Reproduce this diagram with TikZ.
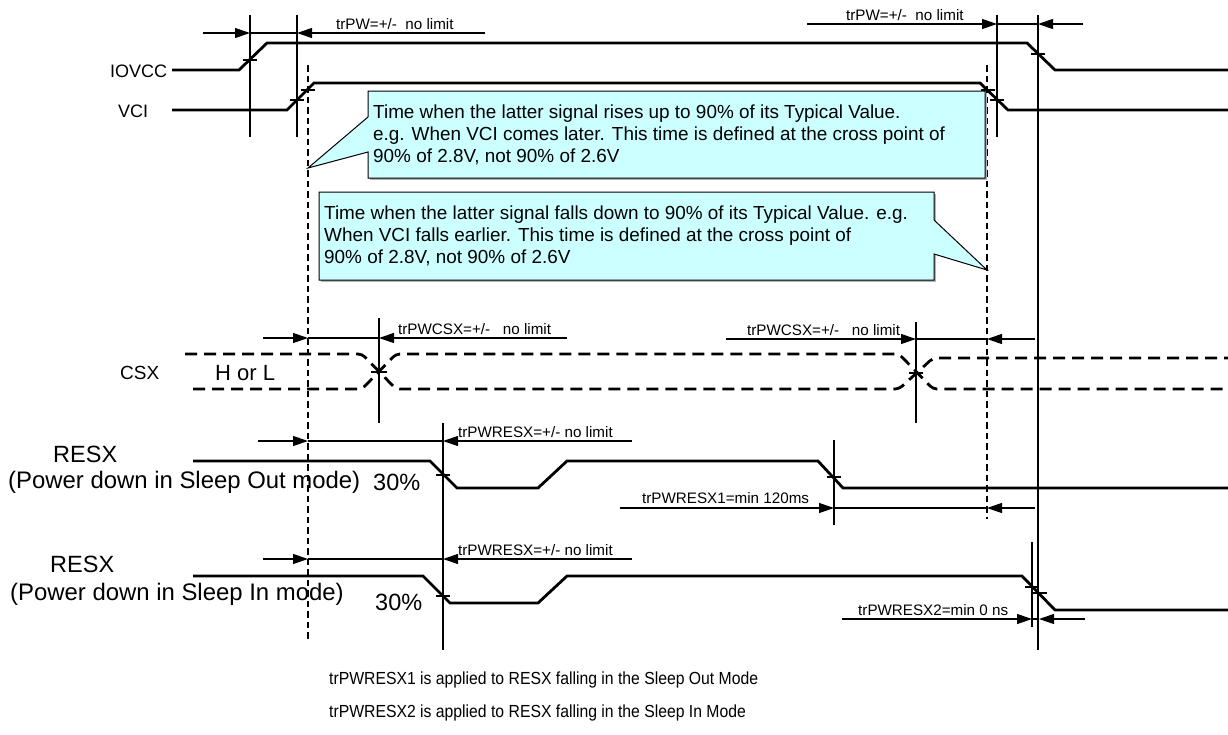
\documentclass[tikz,border=0pt]{standalone}
\usepackage{graphicx}
\usepackage{fontspec}
\setmainfont{Liberation Sans}
\usetikzlibrary{arrows.meta}
\definecolor{callfill}{RGB}{204,255,255}
\begin{document}
\begin{tikzpicture}[x=1pt,y=-1pt,
  sig/.style={line width=2.8pt, line join=miter},
  thinl/.style={line width=1.2pt},
  dim/.style={line width=1.2pt,-{Triangle[length=15pt,width=10pt]}},
  vdash/.style={line width=1.3pt, dash pattern=on 6.5pt off 4pt},
  bus/.style={line width=2.8pt, dash pattern=on 12pt off 7pt, rounded corners=4pt},
  tickl/.style={line width=1.2pt},
  small/.style={font=\fontsize{15.2}{18}\selectfont, inner sep=0pt, anchor=base west},
  lbl/.style={font=\fontsize{18}{21}\selectfont, inner sep=0pt, anchor=base west},
  big/.style={font=\fontsize{23.5}{27}\selectfont, inner sep=0pt, anchor=base west},
  call/.style={font=\fontsize{18.9}{22}\selectfont, inner sep=0pt, anchor=base west},
  note/.style={font=\fontsize{17.5}{22}\selectfont, inner sep=0pt, anchor=base west},
  callbox/.style={draw, fill=callfill, line width=1pt, line join=miter},
  shadow/.style={fill=black!30, draw=none},
]
\useasboundingbox (0,0) rectangle (1228,734);

% ---------- vertical reference lines ----------
\draw[thinl] (250,15) -- (250,137);
\draw[thinl] (297,15) -- (297,137);
\draw[thinl] (997,15) -- (997,137);
\draw[thinl] (1038,15) -- (1038,650);
\draw[vdash] (308,65) -- (308,640);
\draw[vdash] (987,65) -- (987,519);
\draw[thinl] (379,318) -- (379,423);
\draw[thinl] (916,322) -- (916,423);
\draw[thinl] (443,423) -- (443,650);
\draw[thinl] (834,440) -- (834,525);
\draw[thinl] (1032,542) -- (1032,627);

% ---------- signals ----------
\node[lbl] (iovcc) at (110,77) {IOVCC};
\node[lbl] (vci) at (118,117) {VCI};
\draw[sig] (172,70) -- (239,70) -- (267,43) -- (1027,43) -- (1055,70) -- (1228,70);
\draw[sig] (172,110) -- (287,110) -- (314,83) -- (980,83) -- (1008,110) -- (1228,110);

\node[lbl,font=\fontsize{19}{22}\selectfont] (csx) at (120,379) {CSX};
\node[big,font=\fontsize{22}{26}\selectfont] (hol) at (215,380) {H or L};
\draw[bus] (185,354) -- (362,354) -- (396,389) -- (899,389) -- (933,358) -- (1228,358);
\draw[bus] (193,389) -- (362,389) -- (396,354) -- (899,354) -- (933,389) -- (1228,389);

\node[big] (resx1) at (53,462) {RESX};
\node[big,font=\fontsize{23.9}{27}\selectfont] (pd1) at (8,488) {(Power down in Sleep Out mode)};
\node[big] (p30a) at (373,490) {30\%};
\draw[sig] (193,461) -- (430,461) -- (457,488) -- (538,488) -- (567,461) -- (818,461) -- (843,488) -- (1228,488);

\node[big] (resx2) at (50,572) {RESX};
\node[big,font=\fontsize{23.9}{27}\selectfont] (pd2) at (10,600) {(Power down in Sleep In mode)};
\node[big] (p30b) at (375,610) {30\%};
\draw[sig] (193,576) -- (423,576) -- (450,603) -- (538,603) -- (567,576) -- (1022,576) -- (1055,610) -- (1228,610);

% ---------- crossing ticks ----------
\draw[tickl] (243,60) -- (257,60);
\draw[tickl] (290,100) -- (304,100);
\draw[tickl] (301,90) -- (315,90);
\draw[tickl] (1031,54) -- (1045,54);
\draw[tickl] (981,90) -- (995,90);
\draw[tickl] (990,100) -- (1004,100);
\draw[tickl] (371,372) -- (387,372);
\draw[tickl] (909,373) -- (923,373);
\draw[tickl] (436,475) -- (450,475);
\draw[tickl] (827,477) -- (841,477);
\draw[tickl] (436,596) -- (450,596);
\draw[tickl] (1025,587) -- (1039,587);
\draw[tickl] (1033,593) -- (1047,593);

% ---------- dimension arrows ----------
\draw[dim] (203,33) -- (250,33);
\draw[thinl] (250,33) -- (297,33);
\draw[dim] (485,33) -- (297,33);
\node[small] (l1) at (336,29) {trPW=+/-\ \ no limit};

\draw[dim] (807,24) -- (997,24);
\draw[thinl] (997,24) -- (1038,24);
\draw[dim] (1083,24) -- (1038,24);
\node[small] (l2) at (846,20) {trPW=+/-\ \ no limit};

\draw[dim] (263,338) -- (308,338);
\draw[thinl] (308,338) -- (379,338);
\draw[dim] (567,338) -- (379,338);
\node[small] (l3) at (398,334) {trPWCSX=+/-\ \ \ no limit};

\draw[dim] (726,339) -- (916,339);
\draw[thinl] (916,339) -- (987,339);
\draw[dim] (1035,339) -- (987,339);
\node[small] (l4) at (747,335) {trPWCSX=+/-\ \ \ no limit};

\draw[dim] (258,441) -- (308,441);
\draw[thinl] (308,441) -- (443,441);
\draw[dim] (632,441) -- (443,441);
\node[small] (l5) at (458,437) {trPWRESX=+/- no limit};

\draw[dim] (620,508) -- (834,508);
\draw[thinl] (834,508) -- (987,508);
\draw[dim] (1035,508) -- (987,508);
\node[small] (l6) at (642,503) {trPWRESX1=min 120ms};

\draw[dim] (263,559) -- (308,559);
\draw[thinl] (308,559) -- (443,559);
\draw[dim] (632,559) -- (443,559);
\node[small] (l7) at (458,555) {trPWRESX=+/- no limit};

\draw[dim] (842,619) -- (1032,619);
\draw[thinl] (1032,619) -- (1039,619);
\draw[dim] (1085,619) -- (1039,619);
\node[small] (l8) at (858,615) {trPWRESX2=min 0 ns};

% ---------- callouts ----------
\fill[shadow] ([shift={(2,2)}]368,91) -- ([shift={(2,2)}]985,91) -- ([shift={(2,2)}]985,178) -- ([shift={(2,2)}]368,178) -- cycle;
\draw[callbox] (368,91) -- (985,91) -- (985,178) -- (368,178) -- (368,152) -- (308,168) -- (368,117) -- cycle;
\node[call] (c1a) at (373,118.5) {Time when the latter signal rises up to 90\% of its Typical Value.};
\node[call] (c1b) at (373,140.5) {e.g. When VCI comes later. This time is defined at the cross point of};
\node[call] (c1c) at (373,162.5) {90\% of 2.8V, not 90\% of 2.6V};

\fill[shadow] ([shift={(2,2)}]319,192) -- ([shift={(2,2)}]934,192) -- ([shift={(2,2)}]934,280) -- ([shift={(2,2)}]319,280) -- cycle;
\draw[callbox] (319,192) -- (934,192) -- (934,220) -- (987,270) -- (934,254) -- (934,280) -- (319,280) -- cycle;
\node[call] (c2a) at (324,219.5) {Time when the latter signal falls down to 90\% of its Typical Value. e.g.};
\node[call] (c2b) at (324,241.5) {When VCI falls earlier. This time is defined at the cross point of};
\node[call] (c2c) at (324,263.5) {90\% of 2.8V, not 90\% of 2.6V};

% ---------- notes ----------
\node[note] (n1) at (329,684.5) {\scalebox{0.9}[1]{trPWRESX1 is applied to RESX falling in the Sleep Out Mode}};
\node[note] (n2) at (329,717.5) {\scalebox{0.9}[1]{trPWRESX2 is applied to RESX falling in the Sleep In Mode}};
\end{tikzpicture}
\end{document}
